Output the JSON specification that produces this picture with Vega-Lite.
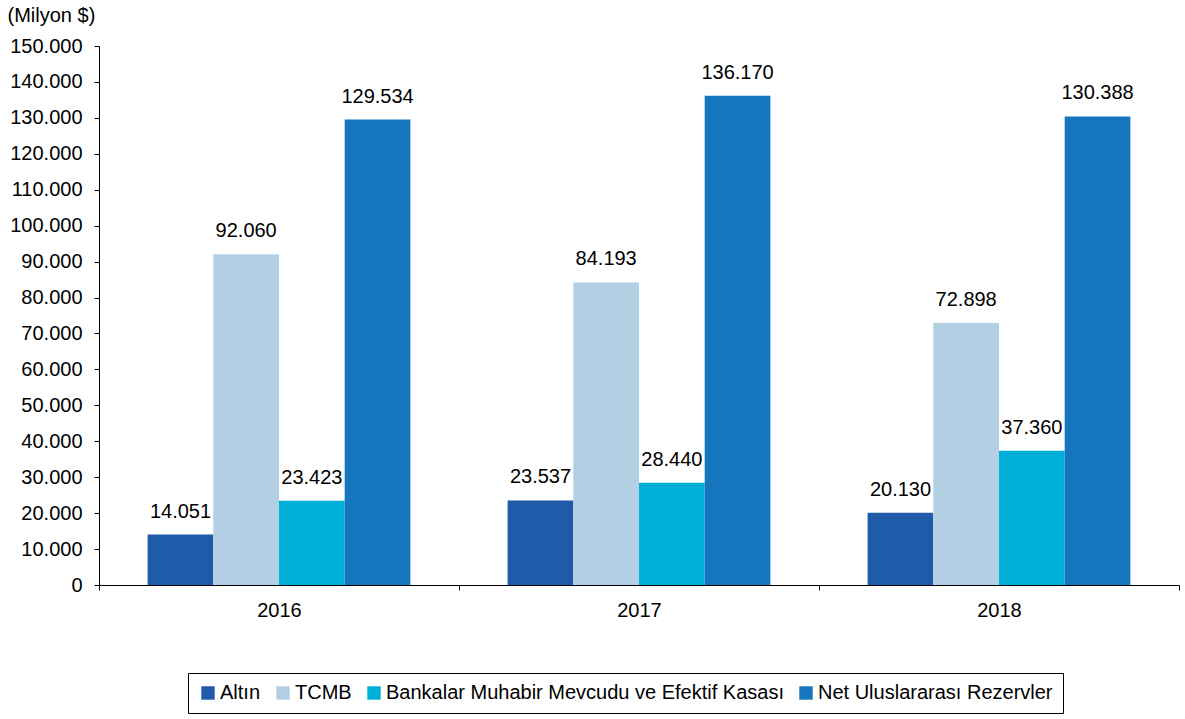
{
  "$schema": "https://vega.github.io/schema/vega-lite/v6.json",
  "width": 1080,
  "height": 539,
  "autosize": {"type": "none"},
  "padding": {"left": 99, "top": 46, "right": 6, "bottom": 134},
  "background": "white",
  "title": {
    "text": "Kaynak: TCMB",
    "orient": "bottom",
    "anchor": "start",
    "frame": "group",
    "offset": 128,
    "dx": -94,
    "baseline": "top",
    "font": "Liberation Sans",
    "fontSize": 19,
    "fontWeight": "bold",
    "color": "#000000"
  },
  "data": {
    "values": [
      {"year": "2016", "series": "Altın", "value": 14051},
      {"year": "2016", "series": "TCMB", "value": 92060},
      {"year": "2016", "series": "Bankalar Muhabir Mevcudu ve Efektif Kasası", "value": 23423},
      {"year": "2016", "series": "Net Uluslararası Rezervler", "value": 129534},
      {"year": "2017", "series": "Altın", "value": 23537},
      {"year": "2017", "series": "TCMB", "value": 84193},
      {"year": "2017", "series": "Bankalar Muhabir Mevcudu ve Efektif Kasası", "value": 28440},
      {"year": "2017", "series": "Net Uluslararası Rezervler", "value": 136170},
      {"year": "2018", "series": "Altın", "value": 20130},
      {"year": "2018", "series": "TCMB", "value": 72898},
      {"year": "2018", "series": "Bankalar Muhabir Mevcudu ve Efektif Kasası", "value": 37360},
      {"year": "2018", "series": "Net Uluslararası Rezervler", "value": 130388}
    ]
  },
  "encoding": {
    "x": {
      "field": "year",
      "type": "nominal",
      "scale": {"paddingInner": 0, "paddingOuter": 0},
      "axis": {
        "title": null,
        "labelAngle": 0,
        "tickBand": "extent",
        "domainColor": "#000000",
        "tickColor": "#000000",
        "tickSize": 5,
        "labelPadding": 10,
        "labelFontSize": 20,
        "labelFont": "Liberation Sans",
        "labelColor": "#000000"
      }
    },
    "xOffset": {
      "field": "series",
      "type": "nominal",
      "sort": ["Altın", "TCMB", "Bankalar Muhabir Mevcudu ve Efektif Kasası", "Net Uluslararası Rezervler"],
      "scale": {"paddingOuter": 0.74, "paddingInner": 0}
    },
    "y": {
      "field": "value",
      "type": "quantitative",
      "scale": {"domain": [0, 150000], "nice": false},
      "axis": {
        "title": "(Milyon $)",
        "titleAngle": 0,
        "titleAlign": "left",
        "titleBaseline": "middle",
        "titleX": -92,
        "titleY": -31,
        "titleFont": "Liberation Sans",
        "titleFontSize": 20,
        "titleFontWeight": "normal",
        "titleColor": "#000000",
        "values": [0, 10000, 20000, 30000, 40000, 50000, 60000, 70000, 80000, 90000, 100000, 110000, 120000, 130000, 140000, 150000],
        "format": ",.0f",
        "grid": false,
        "domainColor": "#000000",
        "tickColor": "#000000",
        "tickSize": 5,
        "labelPadding": 12,
        "labelFontSize": 20,
        "labelFont": "Liberation Sans",
        "labelColor": "#000000"
      }
    }
  },
  "layer": [
    {
      "mark": {"type": "bar"},
      "encoding": {
        "color": {
          "field": "series",
          "type": "nominal",
          "scale": {
            "domain": ["Altın", "TCMB", "Bankalar Muhabir Mevcudu ve Efektif Kasası", "Net Uluslararası Rezervler"],
            "range": ["#1F5BA8", "#B3CFE4", "#00AFD8", "#1576BE"]
          },
          "legend": {
            "title": null,
            "orient": "none",
            "direction": "horizontal",
            "legendX": 89,
            "legendY": 627,
            "strokeColor": "#000000",
            "padding": 10,
            "symbolType": "square",
            "symbolSize": 180,
            "symbolStrokeWidth": 0,
            "symbolOpacity": 1,
            "labelFontSize": 20,
            "labelFont": "Liberation Sans",
            "labelColor": "#000000",
            "labelOffset": 2,
            "columnPadding": 12,
            "labelLimit": 600
          }
        }
      }
    },
    {
      "mark": {"type": "text", "baseline": "bottom", "dy": -13, "font": "Liberation Sans", "fontSize": 20, "color": "#000000"},
      "encoding": {
        "text": {"field": "value", "type": "quantitative", "format": ",.0f"}
      }
    }
  ],
  "config": {
    "view": {"stroke": null},
    "locale": {"number": {"decimal": ",", "thousands": ".", "grouping": [3], "currency": ["", "$"]}}
  }
}
